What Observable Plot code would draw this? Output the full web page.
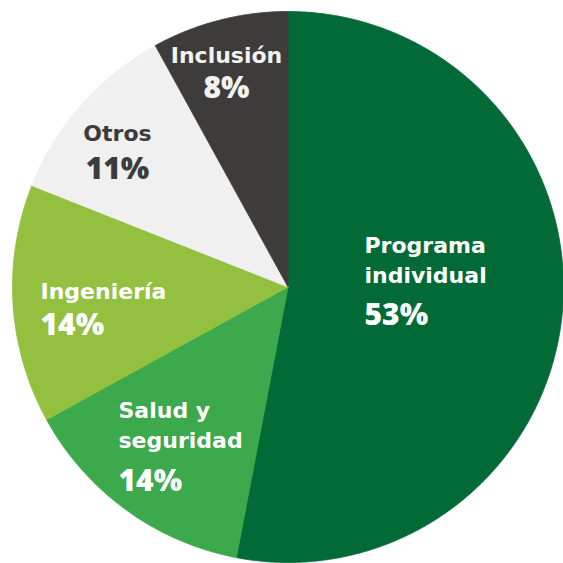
<!DOCTYPE html>
<html><head><meta charset="utf-8">
<script src="https://cdn.jsdelivr.net/npm/d3@7"></script>
<script src="https://cdn.jsdelivr.net/npm/@observablehq/plot@0.6"></script>
<style>html,body{margin:0;padding:0;background:#fff;overflow:hidden}</style>
</head><body><div id="chart"></div>
<script>
// ---- data ----
const categories = ["Programa individual", "Salud y seguridad", "Ingeniería", "Otros", "Inclusión"];
const labelText = ["Programa\nindividual", "Salud y\nseguridad", "Ingeniería", "Otros", "Inclusión"];
const shares = [53, 14, 14, 11, 8];
const percentLabels = ["53%", "14%", "14%", "11%", "8%"];
const sliceColors = ["#026a37", "#3ba94c", "#93c03f", "#f0f0f0", "#3e3c3b"];
const textColors = ["#ffffff", "#ffffff", "#ffffff", "#3c3c3c", "#f2f2f2"];

// ---- layout ----
const W = 563, CX = 287.5, CY = 286.5, R = 275.5;
const labelLayout = [
  {x: 364, y: 282, py: 324, anchor: "start"},
  {x: 118, y: 447, py: 490, anchor: "start"},
  {x: 40,  y: 298, py: 334, anchor: "start"},
  {x: 117, y: 140, py: 178, anchor: "middle"},
  {x: 226, y: 62,  py: 97,  anchor: "middle"}
];

const arcs = d3.pie().sort(null).value(d => d)(shares);
const slicePoints = arcs.flatMap((a, i) => {
  const pts = [{x: CX, y: CY, cat: categories[i]}];
  const n = Math.max(2, Math.ceil((a.endAngle - a.startAngle) / (Math.PI / 360)));
  for (let k = 0; k <= n; k++) {
    const t = a.startAngle + (a.endAngle - a.startAngle) * k / n;
    pts.push({x: CX + R * Math.sin(t), y: CY - R * Math.cos(t), cat: categories[i]});
  }
  pts.push({x: CX, y: CY, cat: categories[i]});
  return pts;
});

const font = "DejaVu Sans";
const pctFont = "Open Sans";
const textMarks = categories.flatMap((c, i) => {
  const L = labelLayout[i];
  const row = [{x: L.x, y: L.y, py: L.py, t: labelText[i], p: percentLabels[i]}];
  return [
    Plot.text(row, {x: "x", y: "y", text: "t", textAnchor: L.anchor, lineAnchor: "bottom",
      lineHeight: 1.32, fontSize: 22, fontWeight: "bold", fontFamily: font, fill: textColors[i]}),
    Plot.text(row, {x: "x", y: "py", text: "p", textAnchor: L.anchor, lineAnchor: "bottom",
      fontSize: 30, fontWeight: 800, fontFamily: pctFont, fill: textColors[i]})
  ];
});

const chart = Plot.plot({
  width: W, height: W, margin: 0,
  style: {background: "#fff"},
  x: {type: "linear", domain: [0, W], range: [0, W], axis: null},
  y: {type: "linear", domain: [0, W], range: [0, W], axis: null},
  color: {domain: categories, range: sliceColors},
  marks: [
    Plot.line(slicePoints, {x: "x", y: "y", z: "cat", fill: "cat", stroke: "cat", strokeWidth: 0.8, curve: "linear"}),
    ...textMarks
  ]
});
document.getElementById("chart").append(chart);
</script>
</body></html>
